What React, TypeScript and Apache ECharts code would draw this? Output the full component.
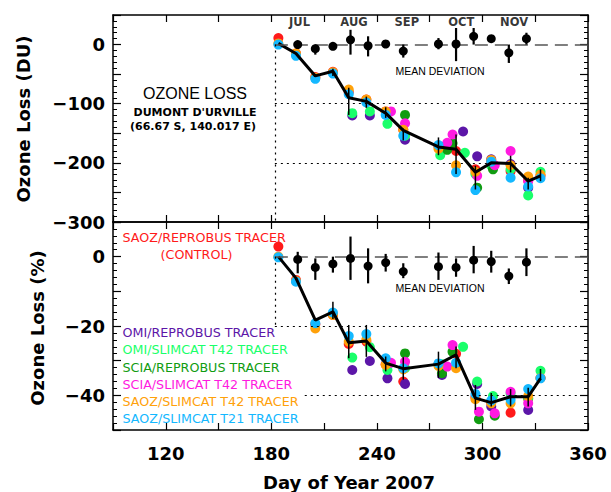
import React, { useEffect, useRef } from "react";
import * as echarts from "echarts";

// ---------- data ----------
const lineDays = [184, 194, 205, 215, 224, 234, 245, 255, 275, 285, 296, 305, 316, 326, 333];
const duLine = [2, -15, -53, -45, -90, -96, -116, -145, -173, -177, -216, -200, -201, -231, -222];
const pctLine = [0, -6.2, -18.3, -15.9, -24.8, -24.3, -30.7, -32.3, -31, -28.3, -40.8, -42.1, -40.4, -40.4, -35.1];

// [day, low, high]
const duLineErr = [
  [215, -53, -41], [224, -119, -73], [234, -107, -88], [245, -124, -106], [255, -162, -142],
  [275, -187, -157], [285, -219, -152], [296, -245, -205], [316, -216, -188], [326, -245, -225], [333, -231, -211],
];
const pctLineErr = [
  [215, -18, -13], [224, -29.3, -19.7], [234, -28.9, -19.7], [245, -33.1, -28.8], [255, -35.5, -29],
  [275, -35, -27.4], [285, -32.2, -25.9], [296, -44.2, -37], [305, -43.2, -39.3], [316, -43.2, -38.2],
  [326, -43.2, -37.8], [333, -35.5, -32.4],
];

const meanDays = [195, 205, 215, 225, 235, 245, 255, 275, 285, 295, 305, 315, 325];
const duMean = [0, -7, -3, 8, -2, 1, -11, 1, 1, 14, 10, -14, 10];
const duMeanLo = [0, -17, -6, -17, -20, -5, -22, -8, -28, 0, 10, -31, 0];
const duMeanHi = [0, 0, 0, 25, 14, 6, 0, 11, 28, 28, 10, 0, 20];
const pctMean = [-0.8, -3.1, -2.1, -0.5, -2.7, -1.7, -4.3, -2.9, -3.1, -1.0, -1.4, -5.6, -1.6];
const pctMeanLo = [-4.8, -6.7, -4.6, -6.7, -7.7, -4.3, -6.2, -6.7, -5.8, -4.8, -4.6, -7.9, -5.6];
const pctMeanHi = [1.4, -0.5, 0, 5.8, 2.4, 0.8, -1.9, 1.2, -0.5, 3.1, 1.7, -3.4, 2.4];

// tracers, top panel (DU) as [day, value]
const redDU = [[184, 11], [194, -15], [205, -55], [215, -46], [224, -80], [234, -93], [245, -113], [255, -144], [275, -172], [285, -180], [296, -211], [305, -198], [316, -214], [326, -230], [333, -222]];
const purpleDU = [[226, -120], [236, -120], [256, -161], [277, -173], [289, -147], [297, -189], [305, -194], [316, -202], [326, -242]];
const lightGreenDU = [[226, -116], [236, -113], [246, -134], [256, -154], [276, -187], [290, -183], [296, -219], [305, -205], [316, -211], [326, -255], [333, -215]];
const greenDU = [[256, -119], [280, -178], [283, -167], [297, -242], [306, -211]];
const magentaDU = [[248, -113], [256, -133], [280, -166], [283, -152], [297, -222], [307, -204], [316, -180], [326, -231]];
const orangeDU = [[184, 2], [194, -15], [205, -56], [215, -47], [224, -76], [234, -93], [245, -113], [255, -144], [275, -176], [285, -204], [296, -215], [305, -195], [316, -204], [326, -223], [333, -220]];
const cyanDU = [[184, 0], [194, -19], [205, -58], [215, -49], [224, -84], [234, -98], [245, -119], [255, -154], [275, -170], [285, -216], [296, -246], [305, -198], [316, -225], [326, -240], [333, -226]];

// tracers, bottom panel (%)
const redPct = [[184, 2.9], [194, -6.7], [205, -19.5], [215, -16.8], [224, -25.2], [234, -24.5], [245, -31], [255, -36], [275, -31], [285, -28], [296, -40.5], [305, -42], [316, -45], [326, -41], [333, -35]];
const purplePct = [[226, -32.7], [236, -30.1], [246, -35.1], [256, -36.7], [277, -34.1], [297, -36.7], [305, -43.2], [326, -44.2]];
const lightGreenPct = [[226, -29.1], [236, -26.1], [246, -32.7], [256, -32.2], [277, -31], [289, -26], [297, -36], [306, -40.2], [316, -39.5], [326, -40.8], [333, -32.9]];
const greenPct = [[256, -27.9], [277, -33.6], [283, -27.4], [298, -46.9], [307, -45.9]];
const magentaPct = [[248, -30.6], [256, -30.3], [280, -31.7], [283, -25.5], [298, -44.7], [307, -45.2], [316, -39], [326, -42.3]];
const orangePct = [[184, 0], [194, -7], [205, -20.7], [215, -16.8], [224, -24.5], [234, -24], [245, -31.2], [255, -32.5], [275, -31.5], [285, -32.2], [296, -41.1], [305, -42.3], [316, -42.3], [326, -40.2], [333, -35]];
const cyanPct = [[184, -0.2], [194, -7.2], [205, -19.2], [215, -16.1], [224, -22.9], [234, -22.3], [245, -29.3], [255, -32.2], [275, -30.8], [285, -30.6], [296, -39.6], [305, -41.5], [316, -41.3], [326, -38.2], [333, -35.1]];

const monthDays = [196, 227, 257, 288, 318];
const monthNames = ["JUL", "AUG", "SEP", "OCT", "NOV"];
const xTickLabels = [120, 180, 240, 300, 360];
const duTickLabels = [0, -100, -200, -300];
const pctTickLabels = [0, -20, -40];

const legendNames = [
  "OMI/REPROBUS TRACER",
  "OMI/SLIMCAT T42 TRACER",
  "SCIA/REPROBUS TRACER",
  "SCIA/SLIMCAT T42 TRACER",
  "SAOZ/SLIMCAT T42 TRACER",
  "SAOZ/SLIMCAT T21 TRACER",
];

const C = {
  red: "#ff1a1a",
  purple: "#5c16a8",
  lightGreen: "#1aff6a",
  green: "#119c11",
  magenta: "#ff1ae0",
  orange: "#ffa10a",
  cyan: "#14b8ff",
};
const legendColors = [C.purple, C.lightGreen, C.green, C.magenta, C.orange, C.cyan];

const TF = "DejaVu Sans";

const fmtNum = (v: number) => (v < 0 ? "\u2212" + Math.abs(v) : String(v));

function xAx(gridIndex: number, position: string, labels: boolean) {
  return {
    type: "value",
    gridIndex,
    position,
    min: 90,
    max: 360,
    interval: 30,
    axisLine: { show: true, onZero: false, lineStyle: { color: "#000", width: 1.5 } },
    axisTick: { show: true, inside: true, length: 7, lineStyle: { color: "#000", width: 1.2 } },
    splitLine: { show: false },
    axisLabel: labels
      ? {
          show: true,
          margin: 14,
          fontFamily: TF,
          fontWeight: "bold",
          fontSize: 18,
          color: "#000",
          formatter: (v: number) => (xTickLabels.includes(v) ? String(v) : ""),
        }
      : { show: false },
  };
}

function yAx(gridIndex: number, position: string, min: number, max: number, interval: number, labels: number[] | null) {
  return {
    type: "value",
    gridIndex,
    position,
    min,
    max,
    interval,
    axisLine: { show: true, onZero: false, lineStyle: { color: "#000", width: 1.5 } },
    axisTick: { show: true, inside: true, length: 8, lineStyle: { color: "#000", width: 1.2 } },
    minorTick: { show: true, splitNumber: 5, length: 4, lineStyle: { color: "#000", width: 1 } },
    splitLine: { show: false },
    minorSplitLine: { show: false },
    axisLabel: labels
      ? {
          show: true,
          margin: 8,
          fontFamily: TF,
          fontWeight: "bold",
          fontSize: 18,
          color: "#000",
          formatter: (v: number) => (labels.includes(v) ? fmtNum(v) : ""),
        }
      : { show: false },
  };
}

function dots(name: string, color: string, data: number[][], ai: number) {
  return {
    type: "scatter",
    name,
    xAxisIndex: ai,
    yAxisIndex: ai,
    data,
    symbolSize: 10,
    itemStyle: { color, opacity: 1 },
    z: 3,
    silent: true,
  };
}

function bars(data: number[][], ai: number, width: number, z: number) {
  return {
    type: "custom",
    xAxisIndex: ai,
    yAxisIndex: ai,
    data,
    encode: { x: 0, y: [1, 2] },
    z,
    silent: true,
    renderItem: (params: any, api: any) => {
      const p1 = api.coord([api.value(0), api.value(1)]);
      const p2 = api.coord([api.value(0), api.value(2)]);
      return {
        type: "line",
        shape: { x1: p1[0], y1: p1[1], x2: p2[0], y2: p2[1] },
        style: { stroke: "#000", lineWidth: width },
      };
    },
  };
}

const dashed = { color: "#555", width: 1.5, type: [13, 7] };
const dotted = { color: "#000", width: 1.2, type: [2, 4] };

function refLines(ai: number, segs: any[]) {
  return {
    type: "line",
    xAxisIndex: ai,
    yAxisIndex: ai,
    data: [[182, 0]],
    symbol: "none",
    showSymbol: false,
    lineStyle: { width: 0 },
    z: 1,
    silent: true,
    markLine: {
      silent: true,
      symbol: ["none", "none"],
      label: { show: false },
      animation: false,
      data: segs.map((s) => [
        { coord: s[0], lineStyle: s[2] },
        { coord: s[1] },
      ]),
    },
  };
}

export default function App() {
  const ref = useRef<HTMLDivElement>(null);
  useEffect(() => {
    document.body.style.margin = "0";
    const chart = echarts.init(ref.current as HTMLDivElement, null, { renderer: "svg" });
    const zip = (a: number[], b: number[]) => a.map((d, i) => [d, b[i]]);
    const zip3 = (a: number[], b: number[], c: number[]) => a.map((d, i) => [d, b[i], c[i]]);

    const series: any[] = [
      refLines(0, [
        [[182, 0], [360, 0], dashed],
        [[182, 0], [182, -300], dotted],
        [[182, -100], [360, -100], dotted],
        [[182, -200], [360, -200], dotted],
      ]),
      refLines(2, [
        [[182, 0], [360, 0], dashed],
        [[182, 0], [182, -20], dotted],
        [[182, -20], [360, -20], dotted],
        [[199, -40], [360, -40], dotted],
      ]),
      dots("SAOZ/REPROBUS TRACER (CONTROL)", C.red, redDU, 0),
      dots(legendNames[0], C.purple, purpleDU, 0),
      dots(legendNames[1], C.lightGreen, lightGreenDU, 0),
      dots(legendNames[2], C.green, greenDU, 0),
      dots(legendNames[3], C.magenta, magentaDU, 0),
      dots(legendNames[4], C.orange, orangeDU, 0),
      dots(legendNames[5], C.cyan, cyanDU, 0),
      dots("SAOZ/REPROBUS TRACER (CONTROL)", C.red, redPct, 2),
      dots(legendNames[0], C.purple, purplePct, 2),
      dots(legendNames[1], C.lightGreen, lightGreenPct, 2),
      dots(legendNames[2], C.green, greenPct, 2),
      dots(legendNames[3], C.magenta, magentaPct, 2),
      dots(legendNames[4], C.orange, orangePct, 2),
      dots(legendNames[5], C.cyan, cyanPct, 2),
      {
        type: "line",
        xAxisIndex: 0,
        yAxisIndex: 0,
        data: zip(lineDays, duLine),
        symbol: "none",
        lineStyle: { color: "#000", width: 3 },
        z: 4,
        silent: true,
      },
      {
        type: "line",
        xAxisIndex: 2,
        yAxisIndex: 2,
        data: zip(lineDays, pctLine),
        symbol: "none",
        lineStyle: { color: "#000", width: 3 },
        z: 4,
        silent: true,
      },
      bars(duLineErr, 0, 1.5, 5),
      bars(pctLineErr, 2, 1.5, 5),
      bars(zip3(meanDays, duMeanLo, duMeanHi), 0, 2.2, 5),
      bars(zip3(meanDays, pctMeanLo, pctMeanHi), 2, 2.2, 5),
      {
        type: "scatter",
        name: "MEAN DEVIATION",
        xAxisIndex: 0,
        yAxisIndex: 0,
        data: zip(meanDays, duMean),
        symbolSize: 9,
        itemStyle: { color: "#000", opacity: 1 },
        z: 6,
        silent: true,
      },
      {
        type: "scatter",
        name: "MEAN DEVIATION",
        xAxisIndex: 2,
        yAxisIndex: 2,
        data: zip(meanDays, pctMean),
        symbolSize: 9,
        itemStyle: { color: "#000", opacity: 1 },
        z: 6,
        silent: true,
      },
      {
        type: "scatter",
        xAxisIndex: 0,
        yAxisIndex: 0,
        data: monthDays.map((d, i) => ({ value: [d, 39], name: monthNames[i] })),
        symbolSize: 0,
        silent: true,
        label: {
          show: true,
          position: "inside",
          formatter: (p: any) => p.name,
          fontFamily: TF,
          fontWeight: "bold",
          fontSize: 11.5,
          color: "#000",
        },
        z: 7,
      },
    ];

    const txt = (text: string, x: number, y: number, opts: any) => ({
      type: "text",
      x,
      y,
      silent: true,
      style: {
        text,
        fill: "#000",
        align: "left",
        verticalAlign: "middle",
        fontFamily: TF,
        fontSize: 12,
        ...opts,
      },
    });

    const graphics: any[] = [
      txt("OZONE LOSS", 195, 93, { align: "center", fontFamily: "Liberation Sans", fontSize: 16 }),
      txt("DUMONT D'URVILLE", 195, 112, { align: "center", fontWeight: "bold", fontSize: 11 }),
      txt("(66.67 S, 140.017 E)", 193, 126, { align: "center", fontWeight: "bold", fontSize: 11 }),
      txt("MEAN DEVIATION", 440, 71, { align: "center", fontFamily: "Liberation Sans", fontSize: 10.5 }),
      txt("MEAN DEVIATION", 440, 288, { align: "center", fontFamily: "Liberation Sans", fontSize: 10.5 }),
      txt("SAOZ/REPROBUS TRACER", 122.5, 237, { fill: C.red, fontSize: 12.7 }),
      txt("(CONTROL)", 196.5, 254.5, { fill: C.red, fontSize: 12.7, align: "center" }),
      ...legendNames.map((n, i) =>
        txt(n, 122.5, 332.7 + i * 17.25, { fill: legendColors[i], fontSize: 12.7 })
      ),
      {
        type: "text",
        x: 23,
        y: 119,
        rotation: Math.PI / 2,
        silent: true,
        style: {
          text: "Ozone Loss (DU)",
          fill: "#000",
          align: "center",
          verticalAlign: "middle",
          fontFamily: TF,
          fontWeight: "bold",
          fontSize: 18,
        },
      },
      {
        type: "text",
        x: 37,
        y: 328,
        rotation: Math.PI / 2,
        silent: true,
        style: {
          text: "Ozone Loss (%)",
          fill: "#000",
          align: "center",
          verticalAlign: "middle",
          fontFamily: TF,
          fontWeight: "bold",
          fontSize: 18,
        },
      },
      txt("Day of Year 2007", 349, 482, { align: "center", fontWeight: "bold", fontSize: 18 }),
    ];

    chart.setOption({
      animation: false,
      backgroundColor: "#fff",
      grid: [
        { left: 113, top: 15, width: 475, height: 207, containLabel: false },
        { left: 113, top: 222, width: 475, height: 208, containLabel: false },
      ],
      xAxis: [xAx(0, "bottom", false), xAx(0, "top", false), xAx(1, "bottom", true), xAx(1, "top", false)],
      yAxis: [
        yAx(0, "left", -300, 50, 50, duTickLabels),
        yAx(0, "right", -300, 50, 50, null),
        yAx(1, "left", -50, 10, 10, pctTickLabels),
        yAx(1, "right", -50, 10, 10, null),
      ],
      series,
      graphic: graphics,
    });
    return () => chart.dispose();
  }, []);
  return <div ref={ref} style={{ width: 611, height: 492 }} />;
}
